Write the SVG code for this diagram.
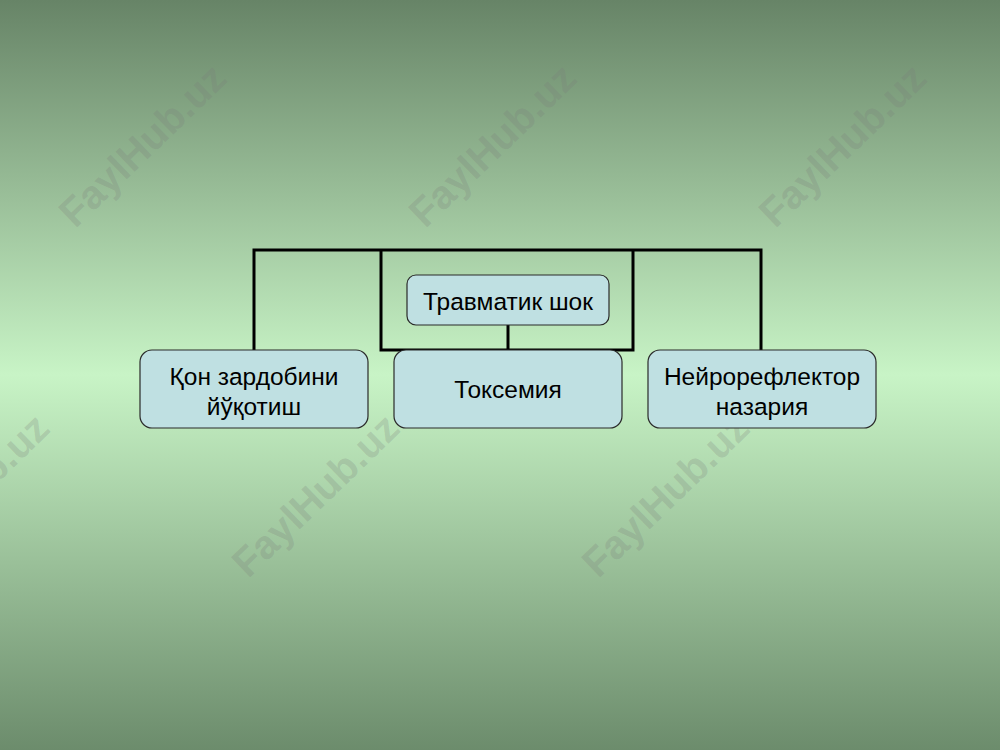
<svg xmlns="http://www.w3.org/2000/svg" width="1000" height="750" viewBox="0 0 1000 750">
<defs>
<linearGradient id="bg" x1="0" y1="0" x2="0" y2="1">
<stop offset="0" stop-color="#678467"/>
<stop offset="0.5" stop-color="#c8f4c6"/>
<stop offset="1" stop-color="#6c8c6c"/>
</linearGradient>
<style>
.node{fill:#bfe0e2;stroke:#2a2a2a;stroke-width:1.2}
.lbl{font-family:"Liberation Sans",Arial,sans-serif;font-size:24.5px;fill:#000;text-anchor:middle}
.wm{font-family:"Liberation Sans",Arial,sans-serif;font-size:40px;font-weight:bold;fill:#7a7a7a;fill-opacity:0.24;text-anchor:middle}
.conn{fill:none;stroke:#000;stroke-width:3}
</style>
</defs>
<rect width="1000" height="750" fill="url(#bg)"/>
<g id="watermarks">
<text class="wm" transform="translate(152,155) rotate(-44)">FaylHub.uz</text>
<text class="wm" transform="translate(502,155) rotate(-44)">FaylHub.uz</text>
<text class="wm" transform="translate(852,155) rotate(-44)">FaylHub.uz</text>
<text class="wm" transform="translate(-25,505) rotate(-44)">FaylHub.uz</text>
<text class="wm" transform="translate(325,505) rotate(-44)">FaylHub.uz</text>
<text class="wm" transform="translate(675,505) rotate(-44)">FaylHub.uz</text>
</g>
<g id="connectors">
<path class="conn" d="M254,350 V250 H761 V350"/>
<path class="conn" d="M381,250 V350 H633 V250"/>
<path class="conn" d="M508,325 V350"/>
</g>
<g id="node-top">
<rect class="node" x="407" y="275" width="202" height="50" rx="9"/>
<text class="lbl" x="508" y="310">Травматик шок</text>
</g>
<g id="node-left">
<rect class="node" x="140" y="350" width="228" height="78" rx="12"/>
<text class="lbl" x="254" y="385">Қон зардобини</text>
<text class="lbl" x="254" y="415">йўқотиш</text>
</g>
<g id="node-middle">
<rect class="node" x="394" y="350" width="228" height="78" rx="12"/>
<text class="lbl" x="508" y="398">Токсемия</text>
</g>
<g id="node-right">
<rect class="node" x="648" y="350" width="228" height="78" rx="12"/>
<text class="lbl" x="762" y="385">Нейрорефлектор</text>
<text class="lbl" x="762" y="415">назария</text>
</g>
</svg>
